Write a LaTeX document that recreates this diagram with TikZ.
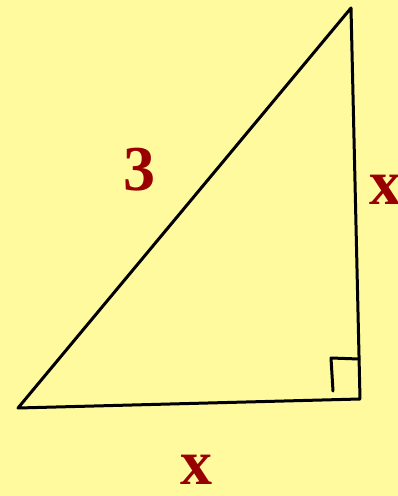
\documentclass[tikz,border=0pt]{standalone}
\usepackage{fontspec}
\setmainfont{Liberation Serif}
\definecolor{paper}{HTML}{FFFA9E}
\definecolor{labelred}{HTML}{990000}
\tikzset{
  side/.style={draw=black, line width=3pt, line cap=round, line join=round},
  sidelabel/.style={text=labelred, font=\bfseries\fontsize{64}{70}\selectfont, inner sep=0pt},
}
\begin{document}
\begin{tikzpicture}[x=1pt, y=-1pt]
  % Hintergrund
  \fill[paper] (0,0) rectangle (398,496);
  \useasboundingbox (0,0) rectangle (398,496);

  % Eckpunkte
  \coordinate (A) at (18,408);
  \coordinate (B) at (360,399);
  \coordinate (C) at (351,8);

  % Seiten
  \draw[side] (A) -- (B) -- (C) -- cycle;

  % rechter Winkel
  \coordinate (r1) at (333,391);
  \coordinate (r2) at (331,358);
  \coordinate (r3) at (359,359);
  \draw[side] (r1) -- (r2) -- (r3);

  % Beschriftungen
  \node[sidelabel] (hyp)   at (139,170) {3};
  \node[sidelabel] (right) at (385,190) {x};
  \node[sidelabel] (base)  at (196,470) {x};
\end{tikzpicture}
\end{document}
